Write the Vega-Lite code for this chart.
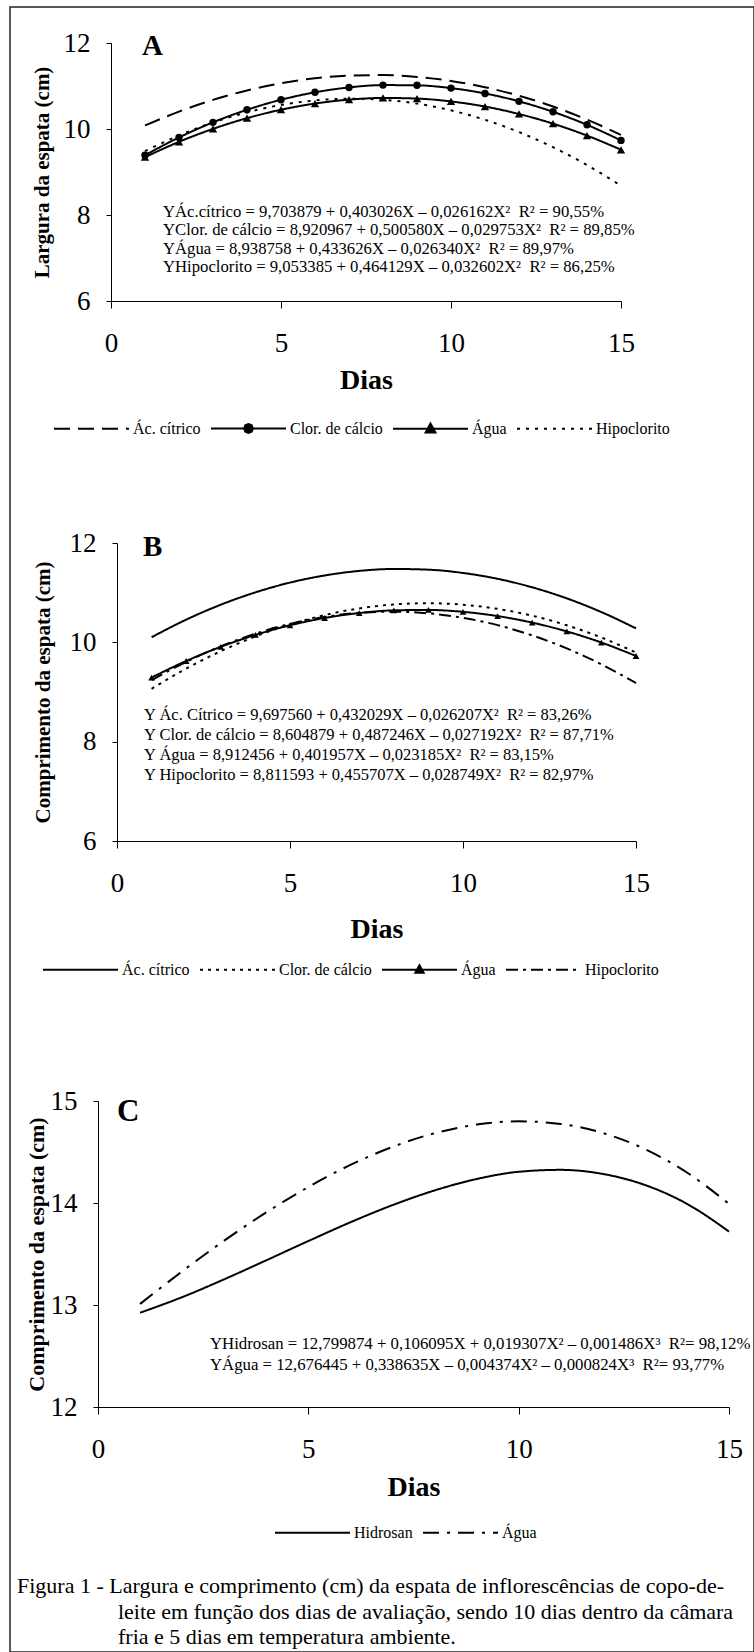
{
  "$schema": "https://vega.github.io/schema/vega-lite/v6.json",
  "width": 744,
  "height": 1645,
  "autosize": {"type": "none"},
  "padding": {"left": 10, "top": 7, "right": 0, "bottom": 0},
  "background": "white",
  "config": {
    "view": {"stroke": "#222222", "strokeWidth": 1.5},
    "font": "Liberation Serif",
    "axis": {"grid": false, "domainColor": "black", "tickColor": "black", "labelColor": "black", "titleColor": "black", "labelFont": "Liberation Serif", "titleFont": "Liberation Serif", "labelFontSize": 27, "titleFontWeight": "bold", "labelFlush": false, "labelOverlap": false},
    "axisX": {"tickSize": 7, "labelPadding": 22, "titleFontSize": 28, "titleBaseline": "middle"},
    "axisY": {"tickSize": 5, "labelPadding": 16, "titleFontSize": 21, "titleBaseline": "middle", "format": "d"},
    "legend": {"labelFont": "Liberation Serif", "labelFontSize": 16, "labelColor": "black", "symbolStrokeWidth": 2, "symbolSize": 5625, "symbolType": "stroke", "symbolStrokeColor": "black", "orient": "none", "direction": "horizontal", "columnPadding": 6, "labelOffset": 3}
  },
  "datasets": {
    "A": [
      {"dia": 1, "serie": "Ác. cítrico", "valor": 10.081}, {"dia": 2, "serie": "Ác. cítrico", "valor": 10.405}, {"dia": 3, "serie": "Ác. cítrico", "valor": 10.677}, {"dia": 4, "serie": "Ác. cítrico", "valor": 10.897}, {"dia": 5, "serie": "Ác. cítrico", "valor": 11.065}, {"dia": 6, "serie": "Ác. cítrico", "valor": 11.18}, {"dia": 7, "serie": "Ác. cítrico", "valor": 11.243}, {"dia": 8, "serie": "Ác. cítrico", "valor": 11.254}, {"dia": 9, "serie": "Ác. cítrico", "valor": 11.212}, {"dia": 10, "serie": "Ác. cítrico", "valor": 11.118}, {"dia": 11, "serie": "Ác. cítrico", "valor": 10.972}, {"dia": 12, "serie": "Ác. cítrico", "valor": 10.773}, {"dia": 13, "serie": "Ác. cítrico", "valor": 10.522}, {"dia": 14, "serie": "Ác. cítrico", "valor": 10.218}, {"dia": 15, "serie": "Ác. cítrico", "valor": 9.863},
      {"dia": 1, "serie": "Clor. de cálcio", "valor": 9.392}, {"dia": 2, "serie": "Clor. de cálcio", "valor": 9.803}, {"dia": 3, "serie": "Clor. de cálcio", "valor": 10.155}, {"dia": 4, "serie": "Clor. de cálcio", "valor": 10.447}, {"dia": 5, "serie": "Clor. de cálcio", "valor": 10.68}, {"dia": 6, "serie": "Clor. de cálcio", "valor": 10.853}, {"dia": 7, "serie": "Clor. de cálcio", "valor": 10.967}, {"dia": 8, "serie": "Clor. de cálcio", "valor": 11.021}, {"dia": 9, "serie": "Clor. de cálcio", "valor": 11.016}, {"dia": 10, "serie": "Clor. de cálcio", "valor": 10.951}, {"dia": 11, "serie": "Clor. de cálcio", "valor": 10.827}, {"dia": 12, "serie": "Clor. de cálcio", "valor": 10.643}, {"dia": 13, "serie": "Clor. de cálcio", "valor": 10.4}, {"dia": 14, "serie": "Clor. de cálcio", "valor": 10.097}, {"dia": 15, "serie": "Clor. de cálcio", "valor": 9.735},
      {"dia": 1, "serie": "Água", "valor": 9.346}, {"dia": 2, "serie": "Água", "valor": 9.701}, {"dia": 3, "serie": "Água", "valor": 10.003}, {"dia": 4, "serie": "Água", "valor": 10.252}, {"dia": 5, "serie": "Água", "valor": 10.448}, {"dia": 6, "serie": "Água", "valor": 10.592}, {"dia": 7, "serie": "Água", "valor": 10.683}, {"dia": 8, "serie": "Água", "valor": 10.722}, {"dia": 9, "serie": "Água", "valor": 10.708}, {"dia": 10, "serie": "Água", "valor": 10.641}, {"dia": 11, "serie": "Água", "valor": 10.522}, {"dia": 12, "serie": "Água", "valor": 10.349}, {"dia": 13, "serie": "Água", "valor": 10.124}, {"dia": 14, "serie": "Água", "valor": 9.847}, {"dia": 15, "serie": "Água", "valor": 9.517},
      {"dia": 1, "serie": "Hipoclorito", "valor": 9.485}, {"dia": 2, "serie": "Hipoclorito", "valor": 9.851}, {"dia": 3, "serie": "Hipoclorito", "valor": 10.152}, {"dia": 4, "serie": "Hipoclorito", "valor": 10.388}, {"dia": 5, "serie": "Hipoclorito", "valor": 10.559}, {"dia": 6, "serie": "Hipoclorito", "valor": 10.664}, {"dia": 7, "serie": "Hipoclorito", "valor": 10.705}, {"dia": 8, "serie": "Hipoclorito", "valor": 10.68}, {"dia": 9, "serie": "Hipoclorito", "valor": 10.59}, {"dia": 10, "serie": "Hipoclorito", "valor": 10.434}, {"dia": 11, "serie": "Hipoclorito", "valor": 10.214}, {"dia": 12, "serie": "Hipoclorito", "valor": 9.928}, {"dia": 13, "serie": "Hipoclorito", "valor": 9.577}, {"dia": 14, "serie": "Hipoclorito", "valor": 9.161}, {"dia": 15, "serie": "Hipoclorito", "valor": 8.68}
    ],
    "B": [
      {"dia": 1, "serie": "Ác. cítrico", "valor": 10.103}, {"dia": 2, "serie": "Ác. cítrico", "valor": 10.457}, {"dia": 3, "serie": "Ác. cítrico", "valor": 10.758}, {"dia": 4, "serie": "Ác. cítrico", "valor": 11.006}, {"dia": 5, "serie": "Ác. cítrico", "valor": 11.203}, {"dia": 6, "serie": "Ác. cítrico", "valor": 11.346}, {"dia": 7, "serie": "Ác. cítrico", "valor": 11.438}, {"dia": 8, "serie": "Ác. cítrico", "valor": 11.477}, {"dia": 9, "serie": "Ác. cítrico", "valor": 11.463}, {"dia": 10, "serie": "Ác. cítrico", "valor": 11.397}, {"dia": 11, "serie": "Ác. cítrico", "valor": 11.279}, {"dia": 12, "serie": "Ác. cítrico", "valor": 11.108}, {"dia": 13, "serie": "Ác. cítrico", "valor": 10.885}, {"dia": 14, "serie": "Ác. cítrico", "valor": 10.609}, {"dia": 15, "serie": "Ác. cítrico", "valor": 10.281},
      {"dia": 1, "serie": "Clor. de cálcio", "valor": 9.065}, {"dia": 2, "serie": "Clor. de cálcio", "valor": 9.471}, {"dia": 3, "serie": "Clor. de cálcio", "valor": 9.822}, {"dia": 4, "serie": "Clor. de cálcio", "valor": 10.119}, {"dia": 5, "serie": "Clor. de cálcio", "valor": 10.361}, {"dia": 6, "serie": "Clor. de cálcio", "valor": 10.549}, {"dia": 7, "serie": "Clor. de cálcio", "valor": 10.683}, {"dia": 8, "serie": "Clor. de cálcio", "valor": 10.763}, {"dia": 9, "serie": "Clor. de cálcio", "valor": 10.788}, {"dia": 10, "serie": "Clor. de cálcio", "valor": 10.758}, {"dia": 11, "serie": "Clor. de cálcio", "valor": 10.674}, {"dia": 12, "serie": "Clor. de cálcio", "valor": 10.536}, {"dia": 13, "serie": "Clor. de cálcio", "valor": 10.344}, {"dia": 14, "serie": "Clor. de cálcio", "valor": 10.097}, {"dia": 15, "serie": "Clor. de cálcio", "valor": 9.795},
      {"dia": 1, "serie": "Água", "valor": 9.291}, {"dia": 2, "serie": "Água", "valor": 9.624}, {"dia": 3, "serie": "Água", "valor": 9.91}, {"dia": 4, "serie": "Água", "valor": 10.149}, {"dia": 5, "serie": "Água", "valor": 10.343}, {"dia": 6, "serie": "Água", "valor": 10.49}, {"dia": 7, "serie": "Água", "valor": 10.59}, {"dia": 8, "serie": "Água", "valor": 10.644}, {"dia": 9, "serie": "Água", "valor": 10.652}, {"dia": 10, "serie": "Água", "valor": 10.614}, {"dia": 11, "serie": "Água", "valor": 10.529}, {"dia": 12, "serie": "Água", "valor": 10.397}, {"dia": 13, "serie": "Água", "valor": 10.22}, {"dia": 14, "serie": "Água", "valor": 9.996}, {"dia": 15, "serie": "Água", "valor": 9.725},
      {"dia": 1, "serie": "Hipoclorito", "valor": 9.239}, {"dia": 2, "serie": "Hipoclorito", "valor": 9.608}, {"dia": 3, "serie": "Hipoclorito", "valor": 9.92}, {"dia": 4, "serie": "Hipoclorito", "valor": 10.174}, {"dia": 5, "serie": "Hipoclorito", "valor": 10.371}, {"dia": 6, "serie": "Hipoclorito", "valor": 10.511}, {"dia": 7, "serie": "Hipoclorito", "valor": 10.593}, {"dia": 8, "serie": "Hipoclorito", "valor": 10.617}, {"dia": 9, "serie": "Hipoclorito", "valor": 10.584}, {"dia": 10, "serie": "Hipoclorito", "valor": 10.494}, {"dia": 11, "serie": "Hipoclorito", "valor": 10.346}, {"dia": 12, "serie": "Hipoclorito", "valor": 10.14}, {"dia": 13, "serie": "Hipoclorito", "valor": 9.877}, {"dia": 14, "serie": "Hipoclorito", "valor": 9.557}, {"dia": 15, "serie": "Hipoclorito", "valor": 9.179}
    ],
    "C": [
      {"dia": 1, "serie": "Hidrosan", "valor": 12.924}, {"dia": 2, "serie": "Hidrosan", "valor": 13.077}, {"dia": 3, "serie": "Hidrosan", "valor": 13.252}, {"dia": 4, "serie": "Hidrosan", "valor": 13.438}, {"dia": 5, "serie": "Hidrosan", "valor": 13.627}, {"dia": 6, "serie": "Hidrosan", "valor": 13.811}, {"dia": 7, "serie": "Hidrosan", "valor": 13.979}, {"dia": 8, "serie": "Hidrosan", "valor": 14.123}, {"dia": 9, "serie": "Hidrosan", "valor": 14.235}, {"dia": 10, "serie": "Hidrosan", "valor": 14.306}, {"dia": 11, "serie": "Hidrosan", "valor": 14.325}, {"dia": 12, "serie": "Hidrosan", "valor": 14.285}, {"dia": 13, "serie": "Hidrosan", "valor": 14.177}, {"dia": 14, "serie": "Hidrosan", "valor": 13.992}, {"dia": 15, "serie": "Hidrosan", "valor": 13.72},
      {"dia": 1, "serie": "Água", "valor": 13.01}, {"dia": 2, "serie": "Água", "valor": 13.33}, {"dia": 3, "serie": "Água", "valor": 13.631}, {"dia": 4, "serie": "Água", "valor": 13.908}, {"dia": 5, "serie": "Água", "valor": 14.157}, {"dia": 6, "serie": "Água", "valor": 14.373}, {"dia": 7, "serie": "Água", "valor": 14.55}, {"dia": 8, "serie": "Água", "valor": 14.684}, {"dia": 9, "serie": "Água", "valor": 14.769}, {"dia": 10, "serie": "Água", "valor": 14.801}, {"dia": 11, "serie": "Água", "valor": 14.775}, {"dia": 12, "serie": "Água", "valor": 14.686}, {"dia": 13, "serie": "Água", "valor": 14.529}, {"dia": 14, "serie": "Água", "valor": 14.299}, {"dia": 15, "serie": "Água", "valor": 13.991}
    ]
  },
  "layer": [
    {
      "data": {"name": "A"},
      "layer": [
        {
          "mark": {"type": "line", "color": "black", "strokeWidth": 2, "interpolate": "monotone"},
          "encoding": {
            "x": {"field": "dia", "type": "quantitative", "scale": {"domain": [0, 15], "range": [101, 611], "nice": false, "zero": false}, "axis": {"orient": "bottom", "values": [0, 5, 10, 15], "offset": -1351, "title": "Dias", "titleY": 79}},
            "y": {"field": "valor", "type": "quantitative", "scale": {"domain": [6, 12], "range": [294, 36], "nice": false, "zero": false}, "axis": {"orient": "left", "values": [6, 8, 10, 12], "offset": -101, "title": "Largura da espata (cm)", "titleX": -69}},
            "strokeDash": {
              "field": "serie", "type": "nominal",
              "scale": {"domain": ["Ác. cítrico", "Clor. de cálcio", "Água", "Hipoclorito"], "range": [[16, 8], [1, 0], [1, 0], [3, 6]]},
              "legend": {"title": null, "legendX": 43, "legendY": 383,
                "encode": {"symbols": {"update": {
                  "shape": {"signal": "datum.value === 'Clor. de cálcio' ? 'M-1,0H1M0.12,0L0.085,0.085L0,0.12L-0.085,0.085L-0.12,0L-0.085,-0.085L0,-0.12L0.085,-0.085Z' : datum.value === 'Água' ? 'M-1,0H1M0,-0.14L0.13,0.1L-0.13,0.1Z' : 'stroke'"},
                  "fill": {"signal": "datum.value === 'Clor. de cálcio' || datum.value === 'Água' ? 'black' : 'transparent'"},
                  "stroke": {"value": "black"},
                  "strokeWidth": {"value": 2},
                  "opacity": {"value": 1},
                  "strokeDash": {"signal": "datum.value === 'Ác. cítrico' ? [14, 7] : datum.value === 'Hipoclorito' ? [3, 6] : [1, 0]"}
                }}}}
            }
          }
        },
        {
          "transform": [{"filter": "datum.serie === 'Clor. de cálcio'"}],
          "mark": {"type": "point", "shape": "circle", "filled": true, "color": "black", "size": 55, "opacity": 1},
          "encoding": {"x": {"field": "dia", "type": "quantitative"}, "y": {"field": "valor", "type": "quantitative"}}
        },
        {
          "transform": [{"filter": "datum.serie === 'Água'"}],
          "mark": {"type": "point", "shape": "triangle-up", "filled": true, "color": "black", "size": 70, "opacity": 1},
          "encoding": {"x": {"field": "dia", "type": "quantitative"}, "y": {"field": "valor", "type": "quantitative"}}
        },
        {
          "data": {"values": [{}]},
          "mark": {"type": "text", "align": "left", "baseline": "middle", "fontSize": 29, "fontWeight": "bold", "color": "black", "text": "A"},
          "encoding": {"x": {"datum": 0.91}, "y": {"datum": 11.93}}
        },
        {
          "data": {"values": [{}]},
          "mark": {"type": "text", "align": "left", "baseline": "top", "fontSize": 16.7, "lineHeight": 18.5, "color": "black",
            "text": ["YÁc.cítrico = 9,703879 + 0,403026X – 0,026162X²\u00a0\u00a0R² = 90,55%", "YClor. de cálcio = 8,920967 + 0,500580X – 0,029753X²\u00a0\u00a0R² = 89,85%", "YÁgua = 8,938758 + 0,433626X – 0,026340X²\u00a0\u00a0R² = 89,97%", "YHipoclorito = 9,053385 + 0,464129X – 0,032602X²\u00a0\u00a0R² = 86,25%"]},
          "encoding": {"x": {"datum": 1.53}, "y": {"datum": 8.26}}
        }
      ]
    },
    {
      "data": {"name": "B"},
      "layer": [
        {
          "mark": {"type": "line", "color": "black", "strokeWidth": 2, "interpolate": "monotone"},
          "encoding": {
            "x": {"field": "dia", "type": "quantitative", "scale": {"domain": [0, 15], "range": [107, 626], "nice": false, "zero": false}, "axis": {"orient": "bottom", "values": [0, 5, 10, 15], "offset": -811, "title": "Dias", "titleY": 88}},
            "y": {"field": "valor", "type": "quantitative", "scale": {"domain": [6, 12], "range": [834, 536], "nice": false, "zero": false}, "axis": {"orient": "left", "values": [6, 8, 10, 12], "offset": -107, "title": "Comprimento da espata (cm)", "titleX": -74}},
            "strokeDash": {
              "field": "serie", "type": "nominal",
              "scale": {"domain": ["Ác. cítrico", "Clor. de cálcio", "Água", "Hipoclorito"], "range": [[1, 0], [3, 5], [1, 0], [12, 5, 3, 5]]},
              "legend": {"title": null, "legendX": 32, "legendY": 924,
                "encode": {"symbols": {"update": {
                  "shape": {"signal": "datum.value === 'Água' ? 'M-1,0H1M0,-0.12L0.11,0.08L-0.11,0.08Z' : 'stroke'"},
                  "fill": {"signal": "datum.value === 'Água' ? 'black' : 'transparent'"},
                  "stroke": {"value": "black"},
                  "strokeWidth": {"value": 2},
                  "opacity": {"value": 1},
                  "strokeDash": {"signal": "datum.value === 'Clor. de cálcio' ? [3, 5] : datum.value === 'Hipoclorito' ? [12, 5, 3, 5] : [1, 0]"}
                }}}}
            }
          }
        },
        {
          "transform": [{"filter": "datum.serie === 'Água'"}],
          "mark": {"type": "point", "shape": "triangle-up", "filled": true, "color": "black", "size": 45, "opacity": 1},
          "encoding": {"x": {"field": "dia", "type": "quantitative"}, "y": {"field": "valor", "type": "quantitative"}}
        },
        {
          "data": {"values": [{}]},
          "mark": {"type": "text", "align": "left", "baseline": "middle", "fontSize": 29, "fontWeight": "bold", "color": "black", "text": "B"},
          "encoding": {"x": {"datum": 0.75}, "y": {"datum": 11.92}}
        },
        {
          "data": {"values": [{}]},
          "mark": {"type": "text", "align": "left", "baseline": "top", "fontSize": 16.5, "lineHeight": 20, "color": "black",
            "text": ["Y Ác. Cítrico = 9,697560 + 0,432029X – 0,026207X²\u00a0\u00a0R² = 83,26%", "Y Clor. de cálcio = 8,604879 + 0,487246X – 0,027192X²\u00a0\u00a0R² = 87,71%", "Y Água = 8,912456 + 0,401957X – 0,023185X²\u00a0\u00a0R² = 83,15%", "Y Hipoclorito = 8,811593 + 0,455707X – 0,028749X²\u00a0\u00a0R² = 82,97%"]},
          "encoding": {"x": {"datum": 0.78}, "y": {"datum": 8.7}}
        }
      ]
    },
    {
      "data": {"name": "C"},
      "layer": [
        {
          "mark": {"type": "line", "color": "black", "strokeWidth": 2, "interpolate": "monotone"},
          "encoding": {
            "x": {"field": "dia", "type": "quantitative", "scale": {"domain": [0, 15], "range": [88, 719], "nice": false, "zero": false}, "axis": {"orient": "bottom", "values": [0, 5, 10, 15], "offset": -245, "title": "Dias", "titleY": 80}},
            "y": {"field": "valor", "type": "quantitative", "scale": {"domain": [12, 15], "range": [1400, 1094], "nice": false, "zero": false}, "axis": {"orient": "left", "values": [12, 13, 14, 15], "offset": -88, "title": "Comprimento da espata (cm)", "titleX": -62, "titleFontSize": 22}},
            "strokeDash": {
              "field": "serie", "type": "nominal",
              "scale": {"domain": ["Hidrosan", "Água"], "range": [[1, 0], [16, 8, 3, 8]]},
              "legend": {"title": null, "legendX": 264, "legendY": 1487}
            }
          }
        },
        {
          "data": {"values": [{}]},
          "mark": {"type": "text", "align": "left", "baseline": "middle", "fontSize": 31, "fontWeight": "bold", "color": "black", "text": "C"},
          "encoding": {"x": {"datum": 0.45}, "y": {"datum": 14.89}}
        },
        {
          "data": {"values": [{}]},
          "mark": {"type": "text", "align": "left", "baseline": "top", "fontSize": 16.8, "lineHeight": 21, "color": "black",
            "text": ["YHidrosan = 12,799874 + 0,106095X + 0,019307X² – 0,001486X³\u00a0\u00a0R²= 98,12%", "YÁgua = 12,676445 + 0,338635X – 0,004374X² – 0,000824X³\u00a0\u00a0R²= 93,77%"]},
          "encoding": {"x": {"datum": 2.66}, "y": {"datum": 12.7}}
        },
        {
          "data": {"values": [{}]},
          "mark": {"type": "text", "align": "left", "baseline": "top", "fontSize": 22, "color": "black",
            "text": "Figura 1 - Largura e comprimento (cm) da espata de inflorescências de copo-de-"},
          "encoding": {"x": {"datum": -1.925}, "y": {"datum": 10.343}}
        },
        {
          "data": {"values": [{}]},
          "mark": {"type": "text", "align": "left", "baseline": "top", "fontSize": 22, "lineHeight": 25, "color": "black",
            "text": ["leite em função dos dias de avaliação, sendo 10 dias dentro da câmara", "fria e 5 dias em temperatura ambiente."]},
          "encoding": {"x": {"datum": 0.475}, "y": {"datum": 10.088}}
        }
      ]
    }
  ],
  "resolve": {
    "scale": {"x": "independent", "y": "independent", "strokeDash": "independent"},
    "axis": {"x": "independent", "y": "independent"},
    "legend": {"strokeDash": "independent"}
  }
}
